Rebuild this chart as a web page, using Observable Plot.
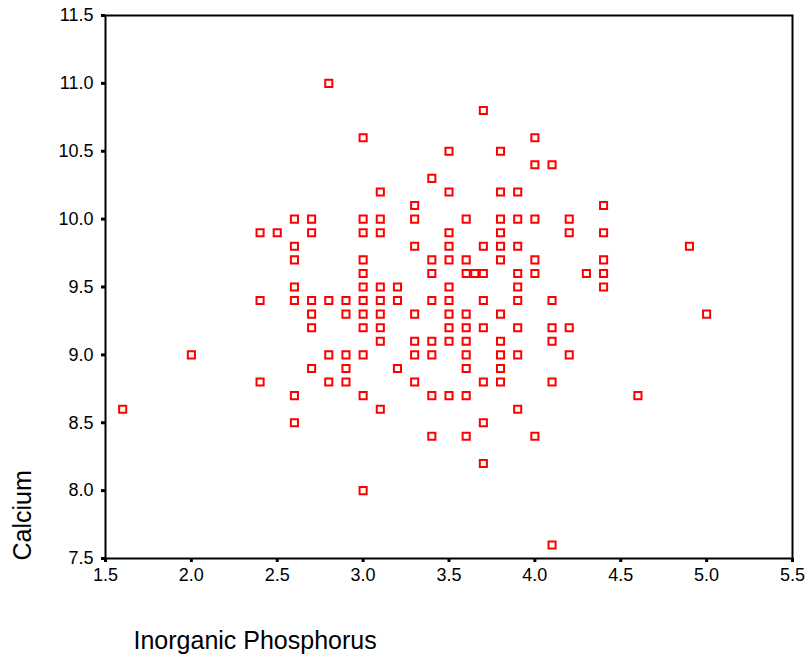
<!DOCTYPE html>
<html>
<head>
<meta charset="utf-8">
<script src="https://cdn.jsdelivr.net/npm/d3@7"></script>
<script src="https://cdn.jsdelivr.net/npm/@observablehq/plot@0.6"></script>
<style>
  html, body { margin: 0; padding: 0; background: #fff; }
  #chart { width: 809px; height: 659px; }
</style>
</head>
<body>
<div id="chart"></div>
<script>
// Inorganic phosphorus (x) and calcium (y), one entry per point
const phosphorus = [
  1.6,
  2.0,
  2.4, 2.4, 2.4,
  2.5,
  2.6, 2.6, 2.6, 2.6, 2.6, 2.6, 2.6,
  2.7, 2.7, 2.7, 2.7, 2.7, 2.7,
  2.8, 2.8, 2.8, 2.8,
  2.9, 2.9, 2.9, 2.9, 2.9,
  3.0, 3.0, 3.0, 3.0, 3.0, 3.0, 3.0, 3.0, 3.0, 3.0, 3.0, 3.0,
  3.1, 3.1, 3.1, 3.1, 3.1, 3.1, 3.1, 3.1, 3.1,
  3.2, 3.2, 3.2,
  3.3, 3.3, 3.3, 3.3, 3.3, 3.3, 3.3,
  3.4, 3.4, 3.4, 3.4, 3.4, 3.4, 3.4, 3.4,
  3.5, 3.5, 3.5, 3.5, 3.5, 3.5, 3.5, 3.5, 3.5, 3.5, 3.5,
  3.6, 3.6, 3.6, 3.6, 3.6, 3.6, 3.6, 3.6, 3.6, 3.6,
  3.65,
  3.7, 3.7, 3.7, 3.7, 3.7, 3.7, 3.7, 3.7,
  3.8, 3.8, 3.8, 3.8, 3.8, 3.8, 3.8, 3.8, 3.8, 3.8, 3.8,
  3.9, 3.9, 3.9, 3.9, 3.9, 3.9, 3.9, 3.9, 3.9,
  4.0, 4.0, 4.0, 4.0, 4.0, 4.0,
  4.1, 4.1, 4.1, 4.1, 4.1, 4.1,
  4.2, 4.2, 4.2, 4.2,
  4.3,
  4.4, 4.4, 4.4, 4.4, 4.4,
  4.6,
  4.9,
  5.0
];
const calcium = [
  8.6,
  9.0,
  9.9, 9.4, 8.8,
  9.9,
  10.0, 9.8, 9.7, 9.5, 9.4, 8.7, 8.5,
  10.0, 9.9, 9.4, 9.3, 9.2, 8.9,
  11.0, 9.4, 9.0, 8.8,
  9.4, 9.3, 9.0, 8.9, 8.8,
  10.6, 10.0, 9.9, 9.7, 9.6, 9.5, 9.4, 9.3, 9.2, 9.0, 8.7, 8.0,
  10.2, 10.0, 9.9, 9.5, 9.4, 9.3, 9.2, 9.1, 8.6,
  9.5, 9.4, 8.9,
  10.1, 10.0, 9.8, 9.3, 9.1, 9.0, 8.8,
  10.3, 9.7, 9.6, 9.4, 9.1, 9.0, 8.7, 8.4,
  10.5, 10.2, 9.9, 9.8, 9.7, 9.5, 9.4, 9.3, 9.2, 9.1, 8.7,
  10.0, 9.7, 9.6, 9.3, 9.2, 9.1, 9.0, 8.9, 8.7, 8.4,
  9.6,
  10.8, 9.8, 9.6, 9.4, 9.2, 8.8, 8.5, 8.2,
  10.5, 10.2, 10.0, 9.9, 9.8, 9.7, 9.3, 9.1, 9.0, 8.9, 8.8,
  10.2, 10.0, 9.8, 9.6, 9.5, 9.4, 9.2, 9.0, 8.6,
  10.6, 10.4, 10.0, 9.7, 9.6, 8.4,
  10.4, 9.4, 9.2, 9.1, 8.8, 7.6,
  10.0, 9.9, 9.2, 9.0,
  9.6,
  10.1, 9.9, 9.7, 9.6, 9.5,
  8.7,
  9.8,
  9.3
];
const xTicks = [1.5, 2.0, 2.5, 3.0, 3.5, 4.0, 4.5, 5.0, 5.5];
const yTicks = [7.5, 8.0, 8.5, 9.0, 9.5, 10.0, 10.5, 11.0, 11.5];
const xTitle = "Inorganic Phosphorus";
const yTitle = "Calcium";

const data = phosphorus.map((p, i) => ({p, c: calcium[i]}));
const fmt = d3.format(".1f");

const chart = Plot.plot({
  width: 809,
  height: 659,
  marginLeft: 105,
  marginRight: 17,
  marginTop: 15,
  marginBottom: 101,
  style: {fontFamily: "'Liberation Sans', Arial, sans-serif", fontSize: "18px", color: "black", background: "white"},
  x: {domain: [1.5, 5.5]},
  y: {domain: [7.5, 11.5]},
  marks: [
    Plot.frame({stroke: "black", strokeWidth: 2}),
    Plot.axisX({ticks: xTicks, tickFormat: fmt, tickSize: 4, tickPadding: 6, strokeWidth: 3, label: null, fontSize: 18}),
    Plot.axisY({ticks: yTicks, tickFormat: fmt, tickSize: 4, tickPadding: 8, strokeWidth: 3, label: null, fontSize: 18}),
    Plot.dot(data, {x: "p", y: "c", symbol: "square", r: 4, stroke: "#ff0000", fill: "white", strokeWidth: 2}),
    Plot.text([xTitle], {text: d => d, frameAnchor: "bottom-left", dx: 28, dy: 90, textAnchor: "start", lineAnchor: "bottom", fontSize: 25, fill: "black"}),
    Plot.text([yTitle], {text: d => d, frameAnchor: "bottom-left", dx: -83, dy: 2, rotate: -90, textAnchor: "start", lineAnchor: "middle", fontSize: 25, fill: "black"})
  ]
});
document.getElementById("chart").appendChild(chart);
</script>
</body>
</html>
